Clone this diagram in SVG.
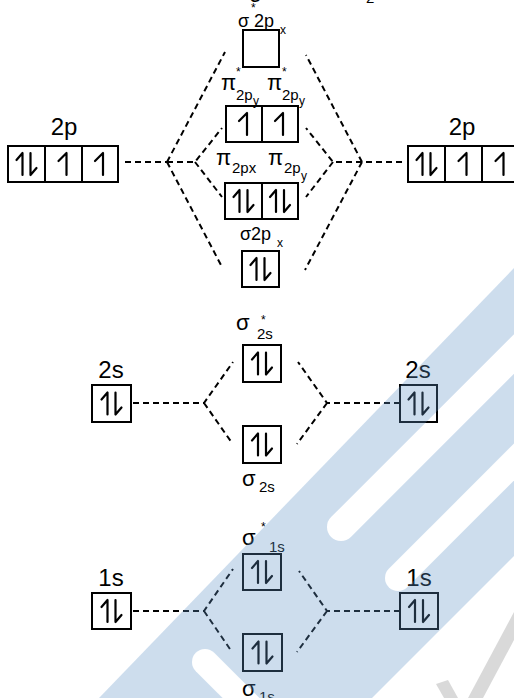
<svg xmlns="http://www.w3.org/2000/svg" xmlns:xlink="http://www.w3.org/1999/xlink" width="514" height="698" viewBox="0 0 514 698">
  <style>
    .box { fill: none; stroke: #000; stroke-width: 2; }
    .e { fill: none; stroke: #000; stroke-width: 2.2; stroke-linecap: round; stroke-linejoin: round; }
    .dash { fill: none; stroke: #000; stroke-width: 2; stroke-dasharray: 6 4; }
    text { font-family: "Liberation Sans", Arial, sans-serif; fill: #000; }
    .lbl { font-size: 24px; text-anchor: middle; }
    .g { font-size: 22px; }
    .sub { font-size: 15px; }
    .ss { font-size: 12px; }
    .st { font-size: 12px; }
    .wm { fill: rgb(97,148,200); opacity: 0.31; }
    .wg { fill: #808080; opacity: 0.3; }
  </style>
  <defs>
    <!-- electron pair: up harpoon (barb left) + down harpoon (barb right) -->
    <g id="pair">
      <path class="e" d="M-4,-11 V11 M-4,-11 L-10,-4"/>
      <path class="e" d="M4,-11 V11 M4,11 L10,4"/>
    </g>
    <!-- single electron: up harpoon -->
    <g id="up">
      <path class="e" d="M3,-11 V11 M3,-11 L-5,-3"/>
    </g>
    <mask id="cut">
      <rect x="0" y="0" width="514" height="698" fill="#fff"/>
      <!-- white stripes inside the band -->
      <path d="M341,527 L560,308" stroke="#000" stroke-width="28" stroke-linecap="round"/>
      <path d="M205,662 L250,707" stroke="#000" stroke-width="26" stroke-linecap="round"/>
      <path d="M398,578 L560,416" stroke="#000" stroke-width="26" stroke-linecap="round"/>
    </mask>
  </defs>

  <!-- partially cropped heading -->
  <text x="249" y="2" class="g">σ</text>
  <text x="366" y="3" class="sub">2</text>

  <!-- connectors -->
  <g id="connectors">
    <!-- 2p -->
    <path class="dash" d="M125,162 H167 M167,162 L225,52 M167,162 L222,267 M167,162 H195 L222,128 M195,162 L222,197"/>
    <path class="dash" d="M402,162 H362 M362,162 L306,55 M362,162 L305,270 M362,162 H333 L306,128 M333,162 L306,197"/>
    <!-- 2s -->
    <path class="dash" d="M133,403 H204 L233,362 M204,403 L232,443"/>
    <path class="dash" d="M400,403 H327 L298,362 M327,403 L297,444"/>
    <!-- 1s -->
    <path class="dash" d="M133,611 H204 L233,569 M204,611 L232,652"/>
    <path class="dash" d="M400,611 H327 L299,571 M327,611 L297,652"/>
  </g>

  <!-- left atom 2p -->
  <g id="left-2p">
    <text x="64" y="135" class="lbl">2p</text>
    <rect class="box" x="8" y="146" width="110" height="36"/>
    <path class="box" d="M45,146 V182 M82,146 V182"/>
    <use xlink:href="#pair" x="26.5" y="164"/>
    <use xlink:href="#up" x="63.5" y="164"/>
    <use xlink:href="#up" x="100" y="164"/>
  </g>

  <!-- right atom 2p -->
  <g id="right-2p">
    <text x="462" y="135" class="lbl">2p</text>
    <rect class="box" x="408" y="146" width="111" height="36"/>
    <path class="box" d="M445,146 V182 M482,146 V182"/>
    <use xlink:href="#pair" x="426.5" y="164"/>
    <use xlink:href="#up" x="463.5" y="164"/>
    <use xlink:href="#up" x="500.5" y="164"/>
  </g>

  <!-- sigma* 2px -->
  <g id="sigma-star-2px">
    <text x="251" y="12" class="st">*</text>
    <text x="238" y="27" style="font-size:18px">σ 2p</text>
    <text x="280" y="34" class="ss">x</text>
    <rect class="box" x="243" y="30" width="36" height="37"/>
  </g>

  <!-- pi* 2p -->
  <g id="pi-star-2p">
    <text x="236" y="76" class="st">*</text>
    <text x="282" y="76" class="st">*</text>
    <text x="221" y="90" class="g">π</text>
    <text x="236" y="100" class="sub">2p</text>
    <text x="253" y="105" class="ss">y</text>
    <text x="267" y="90" class="g">π</text>
    <text x="282" y="100" class="sub">2p</text>
    <text x="299" y="105" class="ss">y</text>
    <rect class="box" x="226" y="106" width="72" height="36"/>
    <path class="box" d="M262,106 V142"/>
    <use xlink:href="#up" x="244" y="124"/>
    <use xlink:href="#up" x="280" y="124"/>
  </g>

  <!-- pi 2p -->
  <g id="pi-2p">
    <text x="216" y="165" class="g">π</text>
    <text x="232" y="173" class="sub">2px</text>
    <text x="268" y="165" class="g">π</text>
    <text x="284" y="173" class="sub">2p</text>
    <text x="301" y="180" class="ss">y</text>
    <rect class="box" x="225" y="183" width="73" height="36"/>
    <path class="box" d="M262,183 V219"/>
    <use xlink:href="#pair" x="243.5" y="201"/>
    <use xlink:href="#pair" x="280" y="201"/>
  </g>

  <!-- sigma 2px -->
  <g id="sigma-2px">
    <text x="240" y="240" style="font-size:18px">σ2p</text>
    <text x="277" y="247" class="ss">x</text>
    <rect class="box" x="242" y="251" width="37" height="36"/>
    <use xlink:href="#pair" x="260.5" y="269"/>
  </g>

  <!-- 2s atoms -->
  <g id="left-2s">
    <text x="111" y="378" class="lbl">2s</text>
    <rect class="box" x="92" y="385" width="39" height="37"/>
    <use xlink:href="#pair" x="111.5" y="403.5"/>
  </g>
  <g id="right-2s">
    <text x="418" y="378" class="lbl">2s</text>
    <rect class="box" x="400" y="385" width="37" height="37"/>
    <use xlink:href="#pair" x="418.5" y="403.5"/>
  </g>

  <!-- sigma* 2s -->
  <g id="sigma-star-2s">
    <text x="236" y="330" class="g">σ</text>
    <text x="261" y="324" class="st">*</text>
    <text x="257" y="339" class="sub">2s</text>
    <rect class="box" x="243" y="345" width="38" height="37"/>
    <use xlink:href="#pair" x="262" y="363.5"/>
  </g>

  <!-- sigma 2s -->
  <g id="sigma-2s">
    <rect class="box" x="243" y="426" width="38" height="37"/>
    <use xlink:href="#pair" x="262" y="444.5"/>
    <text x="242" y="486" class="g">σ</text>
    <text x="259" y="492" class="sub">2s</text>
  </g>

  <!-- 1s atoms -->
  <g id="left-1s">
    <text x="111" y="586" class="lbl">1s</text>
    <rect class="box" x="92" y="593" width="39" height="36"/>
    <use xlink:href="#pair" x="111.5" y="611"/>
  </g>
  <g id="right-1s">
    <text x="419" y="586" class="lbl">1s</text>
    <rect class="box" x="400" y="593" width="38" height="36"/>
    <use xlink:href="#pair" x="419" y="611"/>
  </g>

  <!-- sigma* 1s -->
  <g id="sigma-star-1s">
    <text x="242" y="545" class="g">σ</text>
    <text x="261" y="531" class="st">*</text>
    <text x="269" y="552" class="sub">1s</text>
    <rect class="box" x="243" y="554" width="38" height="36"/>
    <use xlink:href="#pair" x="262" y="572"/>
  </g>

  <!-- sigma 1s -->
  <g id="sigma-1s">
    <rect class="box" x="243" y="634" width="39" height="37"/>
    <use xlink:href="#pair" x="262.5" y="652.5"/>
    <text x="242" y="696" class="g">σ</text>
    <text x="259" y="702" class="sub">1s</text>
  </g>

  <!-- faint background mark -->
  <g id="mark">
    <path class="wm" mask="url(#cut)" d="M514,268 L99,698 L372,698 L514,556 Z"/>
    <path class="wg" d="M514,612 L514,640 L483,698 L468,698 Z"/>
    <path class="wg" d="M436,684 L448,680 L458,698 L444,698 Z"/>
  </g>
</svg>
